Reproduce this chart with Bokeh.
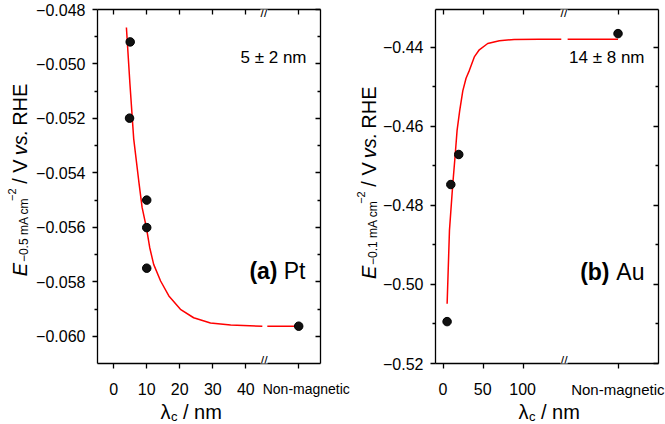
import math
from bokeh.plotting import figure
from bokeh.models import Range1d, LinearAxis, FixedTicker, Label, CustomJSTickFormatter
from bokeh.layouts import row, column
from bokeh.embed import file_html
from bokeh.resources import INLINE

# ---------------- data: (a) Pt ----------------
pt_lambda_nm = [5.0, 4.8, 10.0, 10.0, 10.0]
pt_E = [-0.04919, -0.05199, -0.05500, -0.05601, -0.05750]
pt_nonmag_E = [-0.05963]
pt_fit_lambda = [3.85, 4.9, 6.06, 7.58, 8.6, 9.9, 10.9, 12.1, 14.2, 16.7, 20.2, 24.2, 29.3, 35.4, 45.0]
pt_fit_E = [-0.04866, -0.05070, -0.05275, -0.05429, -0.05527, -0.05601, -0.05674, -0.05736,
            -0.05797, -0.05852, -0.05901, -0.05932, -0.05951, -0.05959, -0.05963]
pt_fit_nonmag_E = -0.05963
pt_yticks = [-0.060, -0.058, -0.056, -0.054, -0.052, -0.050, -0.048]
pt_ytick_labels = ["\u22120.060", "\u22120.058", "\u22120.056", "\u22120.054", "\u22120.052", "\u22120.050", "\u22120.048"]
pt_yminor = [-0.059, -0.057, -0.055, -0.053, -0.051, -0.049]
pt_xticks = [0, 10, 20, 30, 40]
pt_xtick_labels = ["0", "10", "20", "30", "40"]
pt_fit_text = "5 \u00b1 2 nm"

# ---------------- data: (b) Au ----------------
au_lambda_nm = [4.1, 8.8, 18.8]
au_E = [-0.5094, -0.4747, -0.4671]
au_nonmag_E = [-0.4365]
au_fit_lambda = [4.15, 7.1, 11.3, 14.0, 16.7, 20.0, 23.9, 28.0, 32.2, 38.4, 44.7, 55.3, 70.0, 88.7, 120.0, 148.0]
au_fit_E = [-0.5049, -0.4863, -0.4745, -0.4680, -0.4610, -0.4560, -0.4510, -0.4478, -0.4458, -0.4424,
            -0.4406, -0.4390, -0.4383, -0.4380, -0.4379, -0.4379]
au_fit_nonmag_E = -0.4379
au_yticks = [-0.52, -0.50, -0.48, -0.46, -0.44]
au_ytick_labels = ["\u22120.52", "\u22120.50", "\u22120.48", "\u22120.46", "\u22120.44"]
au_yminor = [-0.51, -0.49, -0.47, -0.45]
au_xticks = [0, 50, 100]
au_xtick_labels = ["0", "50", "100"]
au_fit_text = "14 \u00b1 8 nm"

nonmag_label = "Non-magnetic"

FONT = "Liberation Sans"
TOP_H, BOT_H = 373, 51          # panel row height, bottom strip height
FR_TOP, FR_BOT = 9, 363         # frame top / bottom (page px)
TICK_BASE, TITLE_BASE = 388.5, 411.5   # page-px baselines of x tick labels / x titles

# approximate Arial advance widths (em/1000)
_W = {" ": 278, "(": 333, ")": 333, "-": 333, ".": 278, "/": 278, "\u2212": 584, "\u00b1": 584,
      "A": 667, "E": 667, "H": 722, "N": 722, "P": 667, "R": 722, "V": 667,
      "a": 556, "b": 556, "c": 500, "e": 556, "g": 556, "i": 222, "m": 833, "n": 556,
      "o": 556, "s": 500, "t": 278, "u": 556, "v": 500, "\u03bb": 520}


def tw(text, size):
    return sum(_W.get(ch, 556) for ch in text) / 1000.0 * size


def blank(width, height, xr, yr):
    p = figure(width=width, height=height, x_range=Range1d(*xr), y_range=Range1d(*yr),
               output_backend="svg", toolbar_location=None, x_axis_location=None,
               y_axis_location=None, min_border=0, outline_line_color=None,
               background_fill_color="white", border_fill_color="white")
    p.xgrid.visible = False
    p.ygrid.visible = False
    return p


def lab(p, x, y, text, size, units="screen", **kw):
    l = Label(x=x, y=y, x_units=units, y_units=units, text=text,
              text_font=FONT, text_font_size=f"{size}px", text_color="black", **kw)
    p.add_layout(l)
    return l


def y_title(p, x0, y0, sub):
    # (text, size, style, baseline shift, gap before)
    sp = tw(" ", 20)
    pieces = [("E", 20, "italic", 0, 0),
              (sub, 12, "normal", 4, 1.5),
              ("\u22122", 11, "normal", -8, 0),
              ("/ V", 20, "normal", 0, sp),
              ("vs.", 20, "italic", 0, sp),
              ("RHE", 20, "normal", 0, sp)]
    y = y0
    for text, size, style, shift, gap in pieces:
        y += gap
        lab(p, x0 + shift, y, text, size, units="data", angle=math.pi / 2, text_align="left",
            text_baseline="alphabetic", text_font_style=style)
        y += tw(text, size)


def x_title(p, x0, y0):
    # strip figures map data units 1:1 to page pixels (x from strip left, y up from strip bottom)
    lab(p, x0, y0, "\u03bb", 20, units="data", text_align="left", text_baseline="alphabetic")
    x = x0 + tw("\u03bb", 20)
    lab(p, x, y0 - 4, "c", 13, units="data", text_align="left", text_baseline="alphabetic")
    x += tw("c", 13) + tw(" ", 20)
    lab(p, x, y0, "/ nm", 20, units="data", text_align="left", text_baseline="alphabetic")


def label_formatter(tvals, tlabels):
    return CustomJSTickFormatter(args=dict(tvals=tvals, tlabels=tlabels), code="""
        let best = -1, d = Infinity;
        for (let i = 0; i < tvals.length; i++) {
            const e = Math.abs(tvals[i] - tick);
            if (e < d) { d = e; best = i; }
        }
        return (best >= 0 && d < 1e-6 * (1 + Math.abs(tick))) ? tlabels[best] : "";
    """)


def panel(width, bl, br, xr, yr, xticks, nm_pos, brk, yticks, ylabels, yminor):
    p = figure(width=width, height=TOP_H, x_range=Range1d(*xr), y_range=Range1d(*yr),
               output_backend="svg", toolbar_location=None,
               min_border_left=bl, min_border_right=br, min_border_top=FR_TOP,
               min_border_bottom=TOP_H - FR_BOT,
               outline_line_color=None, background_fill_color="white", border_fill_color="white")
    p.xgrid.visible = False
    p.ygrid.visible = False

    common = dict(axis_line_color="black", axis_line_width=1.3,
                  major_tick_line_color="black", major_tick_line_width=1.3,
                  minor_tick_line_color="black", minor_tick_line_width=1.3)
    empty = CustomJSTickFormatter(code="return ''")

    xa = p.xaxis[0]
    xa.ticker = FixedTicker(ticks=xticks + [nm_pos], minor_ticks=[])
    xa.formatter = empty
    xa.update(major_tick_out=5, major_tick_in=0, minor_tick_out=0, minor_tick_in=0,
              major_label_standoff=0, major_label_text_font_size="1px", **common)

    ya = p.yaxis[0]
    ya.ticker = FixedTicker(ticks=yticks, minor_ticks=yminor)
    ya.formatter = label_formatter(yticks, ylabels)
    ya.update(major_tick_out=5, major_tick_in=0, minor_tick_out=3, minor_tick_in=0,
              major_label_standoff=7, major_label_text_font=FONT,
              major_label_text_font_size="16px", major_label_text_color="black", **common)

    top = LinearAxis(ticker=FixedTicker(ticks=xticks + [nm_pos], minor_ticks=[]),
                     formatter=CustomJSTickFormatter(code="return ''"),
                     major_tick_in=5, major_tick_out=0, minor_tick_in=0, minor_tick_out=0,
                     major_label_standoff=0, major_label_text_font_size="1px", **common)
    p.add_layout(top, "above")
    right = LinearAxis(ticker=FixedTicker(ticks=yticks, minor_ticks=yminor),
                       formatter=CustomJSTickFormatter(code="return ''"),
                       major_tick_in=5, major_tick_out=0, minor_tick_in=3, minor_tick_out=0,
                       major_label_standoff=0, major_label_text_font_size="1px", **common)
    p.add_layout(right, "right")

    # axis-break marks (inside the frame)
    p.add_layout(Label(x=brk, y=yr[0], y_offset=3, text="//", text_font=FONT, text_font_size="13px",
                       text_align="center", text_baseline="middle", text_color="black",
                       background_fill_color="white"))
    p.add_layout(Label(x=brk, y=yr[1], y_offset=-3, text="//", text_font=FONT, text_font_size="13px",
                       text_align="center", text_baseline="middle", text_color="black",
                       background_fill_color="white"))
    return p


def strip(x0_page, width, fr_l, fr_r, xr, xticks, xlabels):
    # bottom strip sharing the panel's x mapping (page px -> data)
    u = (xr[1] - xr[0]) / (fr_r - fr_l)
    sx = (xr[0] - (fr_l - x0_page) * u, xr[1] + (x0_page + width - fr_r) * u)
    s = blank(width, BOT_H, sx, (0, BOT_H))
    for t, txt in zip(xticks, xlabels):
        s.add_layout(Label(x=t, y=BOT_H - (TICK_BASE - TOP_H), text=txt, text_font=FONT,
                           text_font_size="16px", text_align="center",
                           text_baseline="alphabetic", text_color="black"))
    return s


# ---------------- geometry (page px) ----------------
YT1_W, P1_W, YT2_W, P2_W = 32, 318, 30, 285
P1_FL, P1_FR = 97, 320
P2_FL, P2_FR = 434, 658
P1_X0 = YT1_W
P2_X0 = YT1_W + P1_W + YT2_W

# ---------------- panel (a) ----------------
PT_XR, PT_YR = (-4.9, 62.6), (-0.061, -0.048)
PT_NM, PT_BREAK = 56.0, 45.5
p1 = panel(P1_W, P1_FL - P1_X0, P1_X0 + P1_W - P1_FR, PT_XR, PT_YR, pt_xticks, PT_NM, PT_BREAK,
           pt_yticks, pt_ytick_labels, pt_yminor)
p1.line(pt_fit_lambda, pt_fit_E, line_color="red", line_width=1.5)
p1.line([PT_BREAK + 1.0, PT_NM], [pt_fit_nonmag_E, pt_fit_nonmag_E], line_color="red", line_width=1.5)
p1.scatter(pt_lambda_nm, pt_E, size=8.5, fill_color="#111111", line_color="black")
p1.scatter([PT_NM], pt_nonmag_E, size=8.5, fill_color="#111111", line_color="black")
dy = TOP_H - 368
lab(p1, 209, 301 + dy, pt_fit_text, 17, text_align="right", text_baseline="alphabetic")
lab(p1, 180, 88 + dy, "(a)", 23, text_align="right", text_baseline="alphabetic", text_font_style="bold")
lab(p1, 208, 88 + dy, "Pt", 23, text_align="right", text_baseline="alphabetic")

# ---------------- panel (b) ----------------
AU_XR, AU_YR = (-10.5, 270.5), (-0.52, -0.4304)
AU_NM, AU_BREAK = 219.5, 151.5
p2 = panel(P2_W, P2_FL - P2_X0, P2_X0 + P2_W - P2_FR, AU_XR, AU_YR, au_xticks, AU_NM, AU_BREAK,
           au_yticks, au_ytick_labels, au_yminor)
p2.line(au_fit_lambda, au_fit_E, line_color="red", line_width=1.5)
p2.line([AU_BREAK + 4.5, AU_NM], [au_fit_nonmag_E, au_fit_nonmag_E], line_color="red", line_width=1.5)
p2.scatter(au_lambda_nm, au_E, size=8.5, fill_color="#111111", line_color="black")
p2.scatter([AU_NM], au_nonmag_E, size=8.5, fill_color="#111111", line_color="black")
lab(p2, 209, 301 + dy, au_fit_text, 17, text_align="right", text_baseline="alphabetic")
lab(p2, 174, 87 + dy, "(b)", 23, text_align="right", text_baseline="alphabetic", text_font_style="bold")
lab(p2, 209, 87 + dy, "Au", 23, text_align="right", text_baseline="alphabetic")

# ---------------- y-axis titles ----------------
yt1 = blank(YT1_W, TOP_H, (0, YT1_W), (0, TOP_H))
y_title(yt1, 19.5, TOP_H - 281, "\u22120.5 mA cm")
yt2 = blank(YT2_W, TOP_H, (0, YT2_W), (0, TOP_H))
y_title(yt2, 368.5 - (YT1_W + P1_W), TOP_H - 284, "\u22120.1 mA cm")

# ---------------- bottom strips: tick labels + x titles ----------------
S1_W = 352
s1 = strip(0, S1_W, P1_FL, P1_FR, PT_XR, pt_xticks, pt_xtick_labels)
s1.add_layout(Label(x=PT_NM, y=BOT_H - (TICK_BASE - TOP_H), x_offset=-36, text=nonmag_label,
                    text_font=FONT, text_font_size="14px", text_align="left",
                    text_baseline="alphabetic", text_color="black"))
# x-title strips use a second pixel-mapped strip figure for the title row
S2_W = 665 - S1_W
s2 = strip(S1_W, S2_W, P2_FL, P2_FR, AU_XR, au_xticks, au_xtick_labels)
s2.add_layout(Label(x=AU_NM, y=BOT_H - (TICK_BASE - TOP_H), text=nonmag_label,
                    text_font=FONT, text_font_size="15px", text_align="center",
                    text_baseline="alphabetic", text_color="black"))

# titles placed with screen offsets from a data anchor at the strip's left/bottom corner
def x_title_in_strip(s, x_page_from_strip_left, baseline_page):
    y0 = BOT_H - (baseline_page - TOP_H)
    xs = s.x_range.start
    u = (s.x_range.end - s.x_range.start) / s.width
    for text, size, dx, dyy in [("\u03bb", 20, 0, 0),
                                ("c", 13, tw("\u03bb", 20), -4),
                                ("/ nm", 20, tw("\u03bb", 20) + tw("c", 13) + tw(" ", 20), 0)]:
        s.add_layout(Label(x=xs + (x_page_from_strip_left + dx) * u, y=y0 + dyy, text=text,
                           text_font=FONT, text_font_size=f"{size}px", text_align="left",
                           text_baseline="alphabetic", text_color="black"))

x_title_in_strip(s1, 160, TITLE_BASE)
x_title_in_strip(s2, 518 - S1_W, TITLE_BASE)

layout = column(row(yt1, p1, yt2, p2), row(s1, s2))
open("out.html", "w").write(file_html(layout, INLINE))
